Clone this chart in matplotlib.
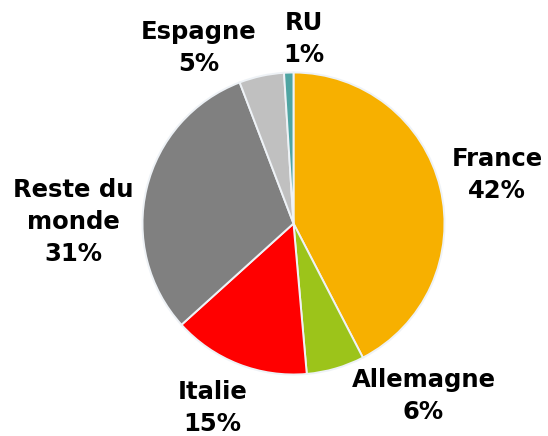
import matplotlib
matplotlib.use("Agg")
import matplotlib.pyplot as plt

categories = ["France", "Allemagne", "Italie", "Reste du\nmonde", "Espagne", "RU"]
values = [42.4, 6.2, 14.7, 30.9, 4.8, 1.0]
colors = ["#F7B000", "#9CC41A", "#FF0000", "#808080", "#C0C0C0", "#4FA5A3"]
label_pos = [(1.348, 0.321), (0.861, -1.142), (-0.536, -1.225), (-1.46, 0.01), (-0.626, 1.16), (0.07, 1.225)]

fig = plt.figure(figsize=(5.48, 4.36), dpi=100)
cx, cy, r = 293.5, 223.5, 151
ax = fig.add_axes([(cx - r) / 548, (436 - cy - r) / 436, 2 * r / 548, 2 * r / 436])
ax.pie(values, colors=colors, startangle=90, counterclock=False,
       wedgeprops=dict(edgecolor="#EEF2F6", linewidth=1.4))
ax.set_aspect("auto")
ax.set_xlim(-1, 1)
ax.set_ylim(-1, 1)
ax.axis("off")

for cat, v, (x, y) in zip(categories, values, label_pos):
    ax.text(x, y, f"{cat}\n{round(v)}%", ha="center", va="center", multialignment="center",
            fontsize=17.5, fontweight="bold", family="DejaVu Sans", color="black",
            linespacing=1.42, clip_on=False)

fig.savefig("out.png", dpi=100)
